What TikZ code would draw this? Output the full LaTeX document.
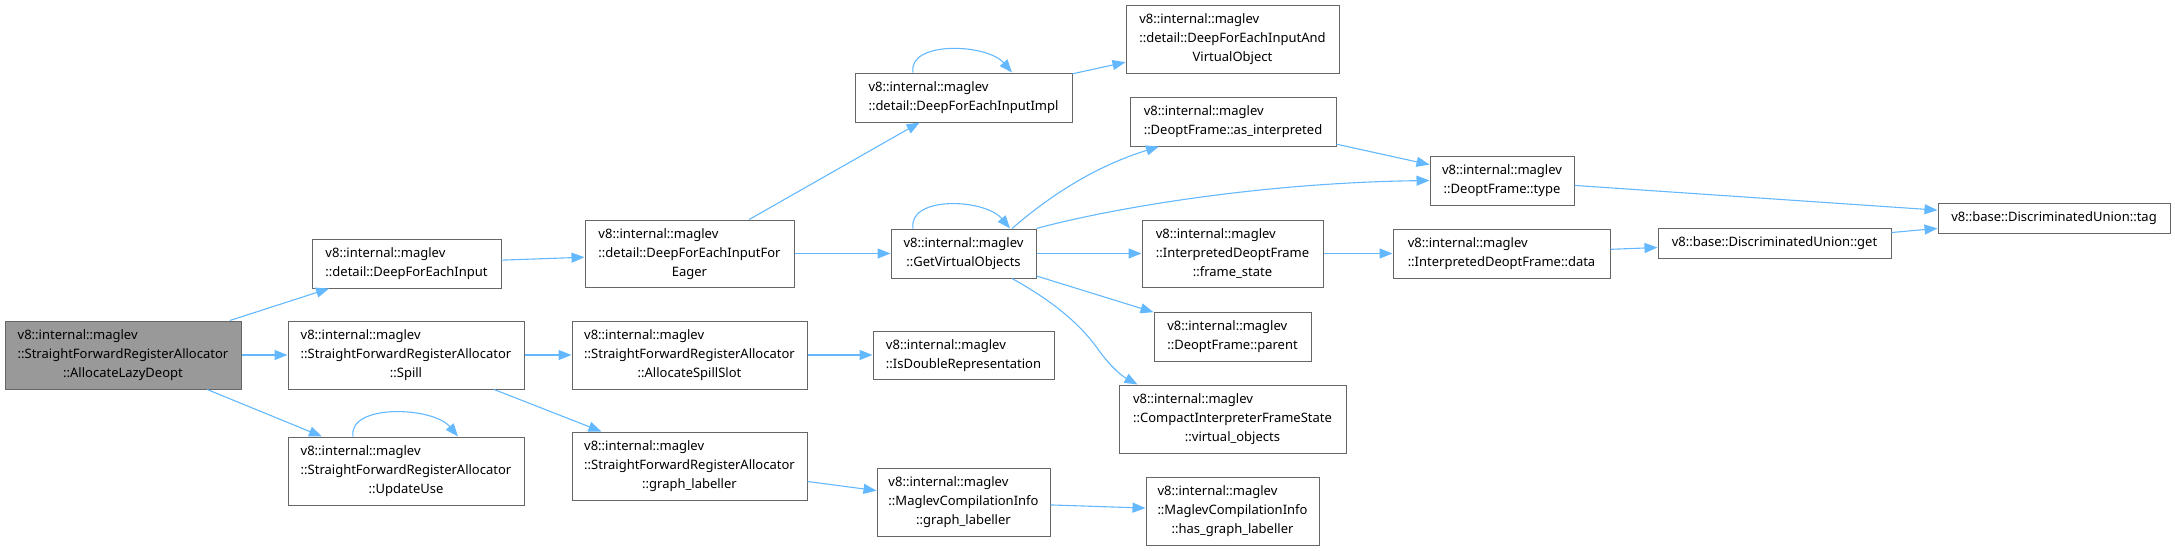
\documentclass[tikz,border=0pt]{standalone}
\usepackage{fontspec}
\setmainfont{Noto Sans}
\usetikzlibrary{arrows.meta}
\definecolor{edgeblue}{HTML}{63B8FF}
\definecolor{boxline}{HTML}{666666}
\definecolor{rootfill}{HTML}{999999}
\newcommand{\twol}[2]{\begin{tabular}{@{}l@{}}#1\\\multicolumn{1}{@{}c@{}}{#2}\end{tabular}}
\newcommand{\threel}[3]{\begin{tabular}{@{}l@{}}#1\\#2\\\multicolumn{1}{@{}c@{}}{#3}\end{tabular}}
\tikzset{
  fn/.style={draw=boxline, line width=1pt, fill=white, inner sep=0pt, rectangle,
    font=\fontsize{13}{19}\selectfont},
  rootfn/.style={fn, fill=rootfill},
  call/.style={draw=edgeblue, line width=1.1pt, -{Triangle[length=13pt,width=10pt]}},
}
\begin{document}
\begin{tikzpicture}[x=1pt,y=-1pt]
\useasboundingbox (0,0) rectangle (2175,550);
% column 1
\node[rootfn, minimum width=236pt, minimum height=68pt] (ald) at (123,355)
  {\threel{v8::internal::maglev}{::StraightForwardRegisterAllocator}{::AllocateLazyDeopt}};
% column 2
\node[fn, minimum width=189pt, minimum height=49pt] (dfei) at (406.5,263.5)
  {\twol{v8::internal::maglev}{::detail::DeepForEachInput}};
\node[fn, minimum width=236pt, minimum height=68pt] (spill) at (406,355)
  {\threel{v8::internal::maglev}{::StraightForwardRegisterAllocator}{::Spill}};
\node[fn, minimum width=236pt, minimum height=68pt] (upd) at (406,471)
  {\threel{v8::internal::maglev}{::StraightForwardRegisterAllocator}{::UpdateUse}};
% column 3
\node[fn, minimum width=209pt, minimum height=67pt] (dfeife) at (689.5,253.5)
  {\threel{v8::internal::maglev}{::detail::DeepForEachInputFor}{Eager}};
\node[fn, minimum width=235pt, minimum height=68pt] (ass) at (689.5,355)
  {\threel{v8::internal::maglev}{::StraightForwardRegisterAllocator}{::AllocateSpillSlot}};
\node[fn, minimum width=235pt, minimum height=68pt] (sgl) at (689.5,466)
  {\threel{v8::internal::maglev}{::StraightForwardRegisterAllocator}{::graph\_labeller}};
% column 4
\node[fn, minimum width=217pt, minimum height=49pt] (dfeii) at (963.5,97.5)
  {\twol{v8::internal::maglev}{::detail::DeepForEachInputImpl}};
\node[fn, minimum width=145pt, minimum height=49pt] (gvo) at (963.5,253.5)
  {\twol{v8::internal::maglev}{::GetVirtualObjects}};
\node[fn, minimum width=181pt, minimum height=48pt] (idr) at (963.5,355)
  {\twol{v8::internal::maglev}{::IsDoubleRepresentation}};
\node[fn, minimum width=173pt, minimum height=68pt] (mgl) at (963.5,502)
  {\threel{v8::internal::maglev}{::MaglevCompilationInfo}{::graph\_labeller}};
% column 5
\node[fn, minimum width=213pt, minimum height=68pt] (avo) at (1232.5,39)
  {\threel{v8::internal::maglev}{::detail::DeepForEachInputAnd}{VirtualObject}};
\node[fn, minimum width=206pt, minimum height=49pt] (asi) at (1233,121.5)
  {\twol{v8::internal::maglev}{::DeoptFrame::as\_interpreted}};
\node[fn, minimum width=181pt, minimum height=67pt] (fst) at (1232.5,253.5)
  {\threel{v8::internal::maglev}{::InterpretedDeoptFrame}{::frame\_state}};
\node[fn, minimum width=157pt, minimum height=49pt] (par) at (1232.5,336.5)
  {\twol{v8::internal::maglev}{::DeoptFrame::parent}};
\node[fn, minimum width=227pt, minimum height=68pt] (vob) at (1232.5,419)
  {\threel{v8::internal::maglev}{::CompactInterpreterFrameState}{::virtual\_objects}};
\node[fn, minimum width=173pt, minimum height=68pt] (hgl) at (1232.5,511)
  {\threel{v8::internal::maglev}{::MaglevCompilationInfo}{::has\_graph\_labeller}};
% column 6
\node[fn, minimum width=144pt, minimum height=49pt] (typ) at (1502,180.5)
  {\twol{v8::internal::maglev}{::DeoptFrame::type}};
\node[fn, minimum width=217pt, minimum height=49pt] (dat) at (1501.5,253.5)
  {\twol{v8::internal::maglev}{::InterpretedDeoptFrame::data}};
% column 7
\node[fn, minimum width=233pt, minimum height=30pt] (get) at (1774.5,243)
  {v8::base::DiscriminatedUnion::get};
% column 8
\node[fn, minimum width=232pt, minimum height=30pt] (tag) at (2054,218)
  {v8::base::DiscriminatedUnion::tag};

% edges
\draw[call] (ald) -- (dfei);
\draw[call] (ald) -- (spill);
\draw[call] (ald) -- (upd);
\draw[call] ([xshift=-53pt]upd.north) .. controls +(-5,-33) and +(-25,-30) .. ([xshift=52pt]upd.north);
\draw[call] (dfei) -- (dfeife);
\draw[call] (dfeife) -- (dfeii);
\draw[call] (dfeife) -- (gvo);
\draw[call] ([xshift=-50.5pt]dfeii.north) .. controls +(-5,-32) and +(-25,-29) .. ([xshift=48.5pt]dfeii.north);
\draw[call] (dfeii) -- (avo);
\draw[call] ([xshift=-50.5pt]gvo.north) .. controls +(-5,-33) and +(-25,-30) .. ([xshift=46.5pt]gvo.north);
\draw[call] ([xshift=48.5pt]gvo.north) .. controls (1045,200) and (1090,168) .. ([xshift=-74pt]asi.south);
\draw[call] (gvo.north east) .. controls (1100,211) and (1250,183) .. (typ.west);
\draw[call] (gvo) -- (fst);
\draw[call] (gvo) -- (par);
\draw[call] ([xshift=48.5pt]gvo.south) .. controls (1060,305) and (1085,330) .. (1100,352)
  .. controls (1112,368) and (1122,376) .. ([xshift=-95pt]vob.north);
\draw[call] (asi) -- (typ);
\draw[call] (typ) -- (tag);
\draw[call] (fst) -- (dat);
\draw[call] (dat) -- (get);
\draw[call] (get) -- (tag);
\draw[call] (spill) -- (ass);
\draw[call] (spill) -- (sgl);
\draw[call] (ass) -- (idr);
\draw[call] (sgl) -- (mgl);
\draw[call] (mgl) -- (hgl);
\end{tikzpicture}
\end{document}
